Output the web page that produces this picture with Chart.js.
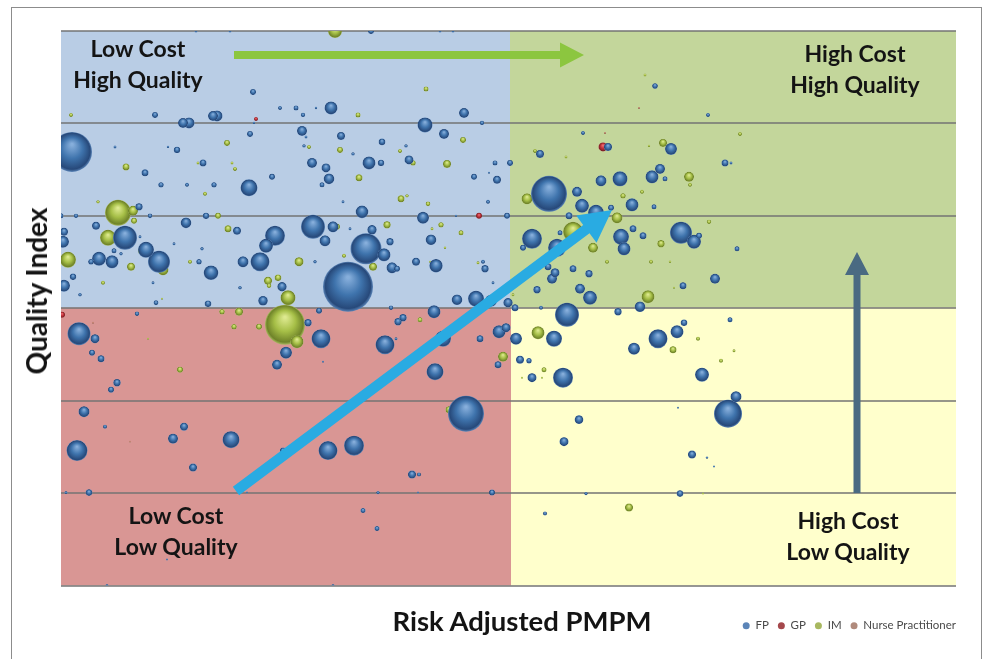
<!DOCTYPE html>
<html><head><meta charset="utf-8">
<script src="https://cdn.jsdelivr.net/npm/chart.js@4/dist/chart.umd.min.js"></script>
<style>
html,body{margin:0;padding:0;background:#fff;width:984px;height:659px;overflow:hidden}
#wrap{position:relative;width:984px;height:659px}
canvas{position:absolute;left:0;top:0;filter:blur(.35px)}
#frame{position:absolute;left:11px;top:7px;width:971px;height:670px;border:1.5px solid #8c8c8c;box-sizing:border-box}
.t{position:absolute;font-family:Lato,"Open Sans",sans-serif;font-weight:700;color:#141414;white-space:nowrap;transform:translate(-50%,-50%);line-height:1}
</style></head><body>
<div id="wrap">
<div id="frame"></div>
<canvas id="c" width="984" height="659"></canvas>
<div class="t" style="left:138px;top:48px;font-size:23px">Low Cost</div>
<div class="t" style="left:138px;top:79px;font-size:23px">High Quality</div>
<div class="t" style="left:855px;top:53px;font-size:23px">High Cost</div>
<div class="t" style="left:855px;top:84px;font-size:23px">High Quality</div>
<div class="t" style="left:176px;top:515px;font-size:23px">Low Cost</div>
<div class="t" style="left:176px;top:546px;font-size:23px">Low Quality</div>
<div class="t" style="left:848px;top:520px;font-size:23px">High Cost</div>
<div class="t" style="left:848px;top:551px;font-size:23px">Low Quality</div>
<div class="t" style="left:522px;top:621px;font-size:27.5px">Risk Adjusted PMPM</div>
<div class="t" style="left:36px;top:291px;font-size:28px;transform:translate(-50%,-50%) rotate(-90deg)">Quality Index</div>
</div>
<script>
// [cost, quality, size]
const fpPoints=[[11,434,20],[192,494,3],[94,471,3],[219,478,2],[122,463,5],[128,463,5.5],[152,470,5],[156,470,5.5],[189,452,3],[54,439,1.5],[107,439,1.2],[116,436,3.2],[142,423,3.5],[193,463,1.2],[135,555,1.5],[169,555,1.5],[310,555,3],[379,555,1.5],[392,555,1.5],[235,478,2.5],[242,471,2.2],[255,478,1.2],[270,478,6.5],[241,455,5],[245,449,1.5],[280,450,4],[243,440,1.7],[321,444,3.3],[364,461,7.5],[383,452,5],[403,473,5],[421,463,2.2],[345,440,1.7],[292,432,1.7],[251,423,5],[265,418,4.5],[308,423,6.5],[320,423,3.2],[348,426,4.5],[434,423,2.5],[449,423,3],
[84,413,3.5],[100,401,2.7],[126,401,2],[153,401,2.7],[188,398,8.5],[211,409,3],[78,379,3.7],[15,370,2.2],[89,370,2.3],[145,370,3.2],[0,370,2.5],[35,360,4],[125,363,5.3],[176,355,4],[214,350,10],[205,340,7],[64,348,12],[3,354,4],[2,344,6],[79,349,1.5],[113,342,1.5],[141,337,1.7],[53,335,2.5],[60,332,1.7],[85,336,8],[38,327,7],[51,324,6.5],[30,324,2.8],[98,324,11],[138,324,2.7],[182,324,5.5],[199,324,9.5],[12,309,3.2],[150,313,7.3],[3,300,6],[92,303,1.5],[179,298,1.8],[221,299,4.7],[19,291,1.8],[95,283,2.4],[147,282,3.3],[202,285,4.8],[76,272,2.2],
[268,407,5.3],[261,401,2.5],[282,384,1.5],[301,374,6.3],[362,368,6],[413,409,3],[436,406,4],[427,384,2],[428,413,1],[446,370,3],[252,359,12],[272,359,5.5],[264,345,5.5],[289,357,1.5],[311,356,4.7],[329,344,3.7],[305,337,15.5],[323,331,6.5],[370,346,5.3],[355,324,4],[254,324,1.7],[375,320,6.7],[422,324,2],[424,317,3.7],[331,318,5.5],[336,317,3],[287,299,25],[432,303,1.5],[396,286,5.3],[415,287,8],[430,285,6],[447,283,4.7],[454,278,3.5],[330,278,2.2],[258,275,3],[373,274,6.5],[395,370,1.2],
[594,500,2.8],[647,471,2],[522,453,2],[479,432,4],[547,439,4],[610,437,6],[664,423,3.5],[670,423,1.5],[599,417,5],[591,409,6.5],[604,407,2.5],[540,405,5.5],[559,407,7.5],[488,392,18],[516,394,5],[521,380,7],[571,381,6.5],[535,373,8],[550,378,3],[593,379,2.5],[508,370,3.5],
[471,347,10],[462,338,3],[499,353,2.5],[496,338,9],[560,349,8],[563,337,6.5],[572,357,3.5],[582,350,3.5],[620,353,11],[633,344,7],[638,350,3],[676,337,2.5],[487,319,3.5],[494,313,4.5],[491,307,5],[512,317,3.5],[528,312,3.7],[476,296,3.7],[519,297,5],[529,288,7],[622,300,3.5],[654,307,5],[480,278,2],[506,271,12],[557,274,3.7],[579,279,5.3],[669,266,2.5],[623,263,3.3],[616,254,6.5],[597,247,9.5],[493,247,8],[455,247,6],[573,237,6],
[18,252,11.5],[34,247,4.5],[31,233,3],[40,227,3.5],[56,203,3.7],[50,196,3],[23,174,5.5],[44,159,2],[123,159,4],[112,147,5],[170,146,8.5],[16,135,10.5],[225,233,6],[216,221,5],[247,263,3.7],[260,247,9.5],[324,241,9.5],[337,264,3.7],[342,268,3.7],[382,247,8],[419,247,3.5],[438,254,6.5],[445,258,4.5],[459,226,4],[468,225,2.7],[437,221,3.5],[374,214,8.5],[405,172,18],[267,135,9.5],[293,140,10],[335,247,1.5],[262,224,1],[471,208,4.5],[502,208,10],[641,211,7],[675,189,5.5],[667,172,14],[518,166,4.3],[503,144,4.5],[631,131,4],[617,178,1],[646,128,1.2],[653,119,1],[525,92,1.7],[619,92,3.3],[484,72,2],[132,118,4],[351,111,4],[358,111,2],[28,93,3.3],[5,93,1.5],[186,93,1],[317,93,1.7],[357,93,1],[431,93,3],[302,75,2.5],[316,57,2.5],[106,26,1],[46,0,1.5],[272,0,1.5],[222,135,3]];
const gpPoints=[[195,467,2],[418,370,3],[542,439,4.5],[1,271,3]];
const imPoints=[[10,471,2],[65,419,3.5],[166,443,3],[137,423,1.5],[171,423,1.5],[174,417,2],[274,555,7],[365,497,2.5],[297,471,2.5],[402,446,3],[279,436,3],[248,439,2],[339,435,2],[352,423,2.7],[386,422,4],[57,373,13],[72,375,5],[73,365,3],[47,348,8],[62,342,3.5],[81,335,4],[144,392,2],[37,384,1.7],[157,370,3],[167,357,3.5],[7,326,8],[70,319,4],[102,316,5.5],[129,324,2],[42,303,2],[207,305,4],[217,308,3.3],[208,300,2.3],[227,288,7.5],[101,287,1],[161,274,2.7],[178,274,4],[224,261,20],[298,408,3.5],[340,387,3.5],[346,390,1.7],[367,382,2.3],[326,361,3.7],[380,361,2.7],[371,357,1.5],[400,353,2.5],[276,359,3],[384,338,1.2],[283,330,2],[238,324,4.5],[312,319,4],[417,323,1.5],[369,324,1],[452,291,1.5],[584,511,1.5],[679,452,2],[602,443,4],[474,435,2],[505,429,1.5],[588,440,1.2],[628,409,5],[629,401,2],[581,394,2],[562,390,2.7],[466,387,5.5],[556,368,5.5],[512,354,10],[532,338,5],[600,342,3.7],[648,364,2.2],[546,324,2],[590,324,2],[609,324,1.2],[587,289,6.5],[613,298,1],[477,253,6.5],[637,247,2],[612,236,3.5],[673,235,1.5],[119,216,3],[173,259,2.7],[198,259,3],[87,247,1],[236,244,6.5],[442,229,5],[359,266,2.5],[388,176,3.5],[461,208,1],[483,216,2.5],[568,78,4],[660,225,2],[481,208,1],[642,92,1]];
const npPoints=[[544,453,1],[578,478,1],[32,263,1],[69,144,1]];
const seriesNames=["FP","GP","IM","Nurse Practitioner"];
const costRange=[0,895], costSplit=450, qualityRange=[0,555], qualitySplit=278, qualityStep=92.5;

const palettes={
 FP:["#86aedb","#3f74ad","#27497a","#5b85b8"],
 GP:["#ee7078","#bf3138","#7d1f25","#a5484c"],
 IM:["#dde98f","#a6bf47","#6f8329","#a8b860"],
 NP:["#e6b3a5","#c07e6c","#8d5445","#b08a7c"]};
function sphere(p){
 return c=>{
  if(!c.parsed||c.raw===undefined) return p[1];
  const ch=c.chart, r=c.raw.r;
  const cx=ch.scales.x.getPixelForValue(c.raw.x), cy=ch.scales.y.getPixelForValue(c.raw.y);
  if(!ch.chartArea||!isFinite(cx)||!isFinite(cy)) return p[1];
  const g=ch.ctx.createRadialGradient(cx,cy-r*.38,r*.05,cx,cy,r);
  g.addColorStop(0,p[0]);g.addColorStop(.5,p[1]);g.addColorStop(.9,p[2]);g.addColorStop(1,p[3]);
  return g;
 };
}
const toBubbles=a=>a.slice().sort((m,n)=>n[2]-m[2]).map(d=>({x:d[0],y:d[1],r:d[2]}));
const ds=(label,pts,p)=>({label,data:toBubbles(pts),backgroundColor:sphere(p),borderWidth:0,hoverBorderWidth:0,clip:0});

const quadrants={id:'quadrants',beforeDraw(ch){
 const {ctx,scales:{x,y}}=ch;
 const L=x.getPixelForValue(costRange[0]),R=x.getPixelForValue(costRange[1]),M=x.getPixelForValue(costSplit);
 const T=y.getPixelForValue(qualityRange[1]),B=y.getPixelForValue(qualityRange[0]),H=y.getPixelForValue(qualitySplit);
 ctx.save();
 ctx.fillStyle='#b9cde5';ctx.fillRect(L,T,M-L-1,H-T);
 ctx.fillStyle='#c3d69b';ctx.fillRect(M-1,T,R-M+1,H-T);
 ctx.fillStyle='#d99694';ctx.fillRect(L,H,M-L,B-H);
 ctx.fillStyle='#ffffcc';ctx.fillRect(M,H,R-M,B-H);
 ctx.restore();
}};
function arrow(ctx,x0,y0,x1,y1,w,hl,hw,col){
 const a=Math.atan2(y1-y0,x1-x0),len=Math.hypot(x1-x0,y1-y0);
 ctx.save();ctx.translate(x0,y0);ctx.rotate(a);ctx.fillStyle=col;
 ctx.beginPath();ctx.moveTo(0,-w/2);ctx.lineTo(len-hl,-w/2);ctx.lineTo(len-hl,-hw/2);ctx.lineTo(len,0);
 ctx.lineTo(len-hl,hw/2);ctx.lineTo(len-hl,w/2);ctx.lineTo(0,w/2);ctx.closePath();ctx.fill();ctx.restore();
}
const arrows={id:'arrows',afterDatasetsDraw(ch){
 const c=ch.ctx;
 arrow(c,234,55,584,55,8,24,25,'#8cc63f');
 arrow(c,236,491,612,210,10.5,32,34,'#29abe2');
 arrow(c,857,493,857,252,7,23,24,'#4a6a82');
}};
const moveLegend={id:'moveLegend',afterLayout(ch){
 const l=ch.legend;const h=l.bottom-l.top;l.top=611;l.bottom=611+h;l.left+=9;l.right+=9;
}};
new Chart(document.getElementById('c'),{
 type:'bubble',
 data:{datasets:[ds(seriesNames[0],fpPoints,palettes.FP),ds(seriesNames[1],gpPoints,palettes.GP),ds(seriesNames[2],imPoints,palettes.IM),ds(seriesNames[3],npPoints,palettes.NP)]},
 options:{responsive:false,animation:false,events:[],
  layout:{padding:{left:61,top:31,right:28,bottom:43}},
  scales:{
   x:{type:'linear',min:costRange[0],max:costRange[1],display:false},
   y:{type:'linear',min:qualityRange[0],max:qualityRange[1],display:true,
      border:{display:false},
      ticks:{display:false,stepSize:qualityStep,padding:0},
      grid:{drawTicks:false,color:'rgba(115,115,115,.75)',lineWidth:2}}
  },
  plugins:{tooltip:{enabled:false},
   legend:{display:true,position:'bottom',align:'end',
    labels:{usePointStyle:true,pointStyle:'circle',boxHeight:5,boxWidth:7,pointStyleWidth:7,padding:9,color:'#4a4a4a',font:{family:'Lato, "Open Sans", sans-serif',size:11.5}}}
  }
 },
 plugins:[quadrants,arrows,moveLegend]
});
</script>
</body></html>
